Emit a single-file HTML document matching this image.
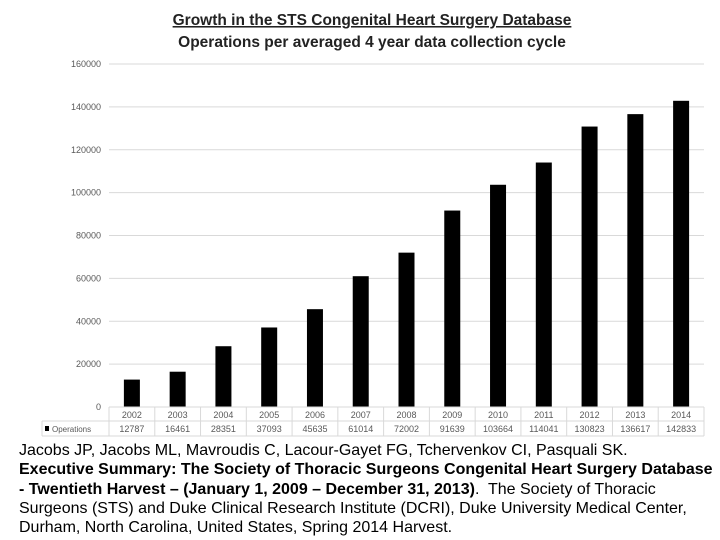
<!DOCTYPE html>
<html><head><meta charset="utf-8"><style>
body{margin:0;background:#fff;width:720px;height:540px;overflow:hidden;font-family:"Liberation Sans",sans-serif}
svg text{font-family:"Liberation Sans",sans-serif}
#cite{position:absolute;left:19px;top:441px;width:710px;font-size:16px;line-height:19.3px;color:#000;white-space:nowrap}
</style></head><body>
<svg id="chart" width="720" height="440" style="position:absolute;left:0;top:0">
<text x="372" y="25" text-anchor="middle" font-size="15.5" font-weight="bold" text-decoration="underline" fill="#222">Growth in the STS Congenital Heart Surgery Database</text>
<text x="372" y="47" text-anchor="middle" font-size="15.5" font-weight="bold" fill="#222">Operations per averaged 4 year data collection cycle</text>
<g id="grid"></g><g id="bars"></g><g id="table"></g>
</svg>
<div id="cite">Jacobs JP, Jacobs ML, Mavroudis C, Lacour-Gayet FG, Tchervenkov CI, Pasquali SK.<br><b>Executive Summary: The Society of Thoracic Surgeons Congenital Heart Surgery Database<br>- Twentieth Harvest – (January 1, 2009 – December 31, 2013)</b>.&nbsp; The Society of Thoracic<br>Surgeons (STS) and Duke Clinical Research Institute (DCRI), Duke University Medical Center,<br>Durham, North Carolina, United States, Spring 2014 Harvest.</div>
<script>
const years=["2002","2003","2004","2005","2006","2007","2008","2009","2010","2011","2012","2013","2014"];
const operations=[12787,16461,28351,37093,45635,61014,72002,91639,103664,114041,130823,136617,142833];
const ticks=[0,20000,40000,60000,80000,100000,120000,140000,160000];
const NS="http://www.w3.org/2000/svg";
const x0=109,x1=704,y0=407,y1=64,maxV=160000;
const colW=(x1-x0)/years.length;
const y=v=>y0-(v/maxV)*(y0-y1);
const xc=i=>x0+colW*(i+0.5);
function mk(t,a,p){const e=document.createElementNS(NS,t);for(const k in a)e.setAttribute(k,a[k]);p.appendChild(e);return e;}
const grid=document.getElementById('grid'),bars=document.getElementById('bars'),tab=document.getElementById('table');
ticks.forEach(t=>{
 const l=mk('line',{x1:x0,x2:x1,y1:y(t),y2:y(t),stroke:'#d9d9d9','stroke-width':1},grid);
 
 
 const tx=mk('text',{x:101,y:y(t)+3,'text-anchor':'end','font-size':9,fill:'#595959'},grid);
 tx.textContent=t;
 
 
});
operations.forEach((v,i)=>{
 const r=mk('rect',{x:xc(i)-8,y:y(v),width:16,height:y0-y(v),fill:'#000'},bars);
 
 
});
const rTop=407,rMid=421,rBot=436,lx=42;
mk('line',{x1:x0,x2:x1,y1:rTop,y2:rTop,stroke:'#d9d9d9'},tab);
mk('line',{x1:lx,x2:x1,y1:rMid,y2:rMid,stroke:'#d9d9d9'},tab);
mk('line',{x1:lx,x2:x1,y1:rBot,y2:rBot,stroke:'#d9d9d9'},tab);
mk('line',{x1:lx,x2:lx,y1:rMid,y2:rBot,stroke:'#d9d9d9'},tab);
for(let i=0;i<=years.length;i++)mk('line',{x1:x0+colW*i,x2:x0+colW*i,y1:rTop,y2:rBot,stroke:'#d9d9d9'},tab);
mk('rect',{x:45,y:426,width:4,height:5,fill:'#000'},tab);
const lt=mk('text',{x:52,y:432,'font-size':8,fill:'#595959'},tab);lt.textContent='Operations';


years.forEach((yr,i)=>{
 const a=mk('text',{x:xc(i),y:418,'text-anchor':'middle','font-size':9,fill:'#595959'},tab);a.textContent=yr;
 
 
 const b=mk('text',{x:xc(i),y:432,'text-anchor':'middle','font-size':9,fill:'#595959'},tab);b.textContent=operations[i];
 
 
});
</script>
</body></html>
